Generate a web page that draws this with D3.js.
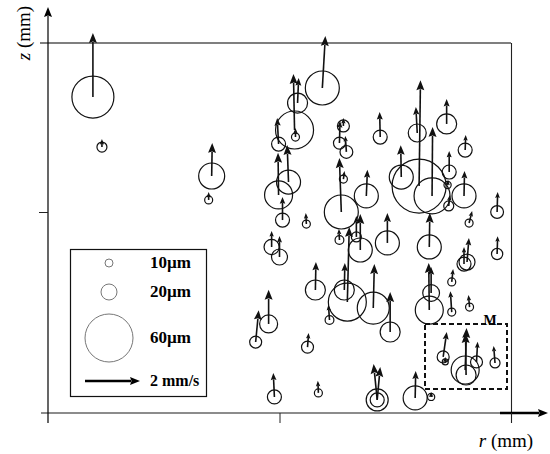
<!DOCTYPE html>
<html><head><meta charset="utf-8"><script src="https://d3js.org/d3.v7.min.js"></script></head>
<body style="margin:0;background:white;">
<script>
// bubble positions (mm), diameters (um), velocities (mm/s)
rPos = [0.194,0.233,0.707,0.694,1.185,1.078,1.065,1.069,0.996,1.039,0.996,1.013,1.116,0.966,1.000,
        1.276,1.259,1.289,1.435,1.276,1.267,1.375,1.259,1.332,1.349,1.466,1.155,1.280,1.293,1.405,1.478,
        0.897,0.953,1.121,1.216,0.978,1.168,1.422,1.422,1.586,1.655,1.526,1.595,1.722,1.802,1.733,1.603,
        1.659,1.797,1.726,1.731,1.819,1.940,1.647,1.797,1.810,1.940,1.655,1.647,1.744,1.744,1.821,
        1.707,1.716,1.802,1.806,1.851,1.931];
zPos = [1.572,1.323,1.179,1.060,1.617,1.542,1.408,1.373,1.338,1.149,1.085,0.960,0.940,0.826,0.776,
        1.428,1.343,1.299,1.373,1.164,1.000,1.080,0.861,0.876,0.811,0.846,0.612,0.612,0.552,0.522,0.403,
        0.353,0.443,0.328,0.463,0.080,0.100,0.065,0.065,0.075,0.080,1.174,1.393,1.438,1.308,1.199,1.129,
        1.080,1.080,1.134,1.030,0.945,1.000,0.826,0.741,0.751,0.791,0.597,0.512,0.652,0.502,0.527,
        0.279,0.254,0.214,0.189,0.254,0.249];
diam = [52.5,12.5,32.5,10,42.5,25,47.5,10,17.5,30,35,17.5,10,19,20,
        15,15,16,17.5,10,42.5,30,11,12.5,30,30,25,25,47.5,40,25,
        15,22.5,15,11,17.5,10,27.5,17.5,30,9,30,22.5,25,17.5,17.5,67.5,
        45,30,9,12.5,10,16,30,17.5,20,14,21,35,10,10,10,
        15,7.5,35,25,15,12.5];
uVel = [0,0,0.02,0,0.11,0.04,-0.04,0,-0.05,-0.05,-0.02,0,-0.02,0,0,
        0,0.02,-0.04,-0.02,0.04,-0.07,0.04,-0.02,0,0,0,0.02,0.02,0.07,0.04,0,
        0.11,0,0.04,-0.04,-0.04,-0.02,-0.13,0.11,0.02,0,-0.02,-0.05,0,0.02,0,0.05,
        0.02,0.02,0.02,0.04,0.11,0.02,0.02,0,0.07,0.02,0,-0.02,0.05,-0.05,-0.04,
        0.13,0,0.05,-0.02,0.04,-0.05];
wVel = [2.33,0.29,1.20,0.29,1.89,0.91,2.04,0.33,0.95,1.35,1.53,0.84,0.40,0.58,0.76,
        0.29,0.80,0.58,0.91,0.29,1.96,0.95,0.40,0.76,1.31,1.09,1.02,0.98,2.73,1.60,1.45,
        1.16,1.24,0.51,0.55,0.87,0.44,1.31,1.20,0.98,0.18,1.16,0.95,0.91,0.55,0.76,3.85,
        2.51,0.91,0.18,0.40,0.44,0.73,1.24,0.62,0.87,0.65,0.95,1.71,0.47,0.76,0.44,
        0.91,0.18,1.53,1.53,0.73,0.62];

legendSizes = [10,20,60];
legendLabels = ["10\u00b5m","20\u00b5m","60\u00b5m"];
legendSpeed = 2;
legendSpeedLabel = "2 mm/s";

bubbles = rPos.map(function(r,i){ return {r:r, z:zPos[i], d:diam[i], u:uVel[i], w:wVel[i]}; });

x = d3.scaleLinear().domain([0,2]).range([48,511]);
y = d3.scaleLinear().domain([0,1]).range([413,212]);
rad = d3.scaleLinear().domain([0,60]).range([0,24]);
vel = d3.scaleLinear().domain([0,2]).range([0,55]);
zTop = 1.841;

svg = d3.select("body").append("svg")
  .attr("width",550).attr("height",454)
  .style("font-family","'Liberation Serif','Times New Roman',serif");

// arrow path helper: shaft + filled head
arrow = function(x0,y0,x1,y1,hl,hw) {
  var dx=x1-x0, dy=y1-y0, len=Math.sqrt(dx*dx+dy*dy);
  if (len<0.1) return {shaft:"",head:""};
  var ux=dx/len, uy=dy/len;
  if (hl===undefined) hl=Math.min(10,Math.max(5.5,len*0.3));
  if (hw===undefined) hw=hl*0.4;
  hl=Math.min(hl,len);
  var bx=x1-ux*hl, by=y1-uy*hl;
  return {
    shaft:"M"+x0+","+y0+"L"+(bx+ux*1)+","+(by+uy*1),
    head:"M"+x1+","+y1+"L"+(bx-uy*hw)+","+(by+ux*hw)+"L"+(bx+ux*hl*0.15)+","+(by+uy*hl*0.15)+"L"+(bx+uy*hw)+","+(by-ux*hw)+"Z"
  };
};

// frame and axes
svg.append("line").attr("x1",40).attr("x2",x(2)).attr("y1",y(zTop)).attr("y2",y(zTop))
  .attr("stroke","#555").attr("stroke-width",1.4);
svg.append("line").attr("x1",x(2)+0.5).attr("x2",x(2)+0.5).attr("y1",y(zTop)).attr("y2",423)
  .attr("stroke","#222").attr("stroke-width",1.1);
svg.append("line").attr("x1",41).attr("x2",502).attr("y1",y(0)).attr("y2",y(0))
  .attr("stroke","#666").attr("stroke-width",1.5);
xa = arrow(500,y(0),548,y(0),10,4);
svg.append("path").attr("d",xa.shaft).attr("stroke","#000").attr("stroke-width",2.4);
svg.append("path").attr("d",xa.head).attr("fill","#000");
ya = arrow(x(0),423,x(0),7,10,4);
svg.append("path").attr("d",ya.shaft).attr("stroke","#000").attr("stroke-width",1.2);
svg.append("path").attr("d",ya.head).attr("fill","#000");

gx = svg.append("g").attr("transform","translate(0,"+y(0)+")")
  .call(d3.axisBottom(x).tickValues([1,2]).tickSize(10).tickFormat(""));
gx.select(".domain").remove();
gx.selectAll("line").attr("stroke","#222");
gy = svg.append("g").attr("transform","translate("+x(0)+",0)")
  .call(d3.axisLeft(y).tickValues([1]).tickSize(9).tickFormat(""));
gy.select(".domain").remove();
gy.selectAll("line").attr("stroke","#222");

svg.append("text").attr("transform","translate(30,33) rotate(-90)")
  .attr("text-anchor","middle").attr("font-size",19)
  .html("<tspan font-style='italic'>z</tspan> (mm)");
svg.append("text").attr("x",506).attr("y",447)
  .attr("text-anchor","middle").attr("font-size",19)
  .html("<tspan font-style='italic'>r</tspan> (mm)");

// bubbles
svg.append("g").selectAll("circle").data(bubbles).enter().append("circle")
  .attr("cx",function(d){return x(d.r);})
  .attr("cy",function(d){return y(d.z);})
  .attr("r",function(d){return rad(d.d);})
  .attr("fill","none").attr("stroke","#111").attr("stroke-width",1.2);

ar = svg.append("g").selectAll("g").data(bubbles).enter().append("g");
ar.each(function(d){
  var x0=x(d.r), y0=y(d.z), a=arrow(x0,y0,x0+vel(d.u),y0-vel(d.w));
  d3.select(this).append("path").attr("d",a.shaft).attr("stroke","#111").attr("stroke-width",1.6).attr("fill","none");
  d3.select(this).append("path").attr("d",a.head).attr("fill","#111");
});

// dashed box M
svg.append("rect").attr("x",425).attr("y",324).attr("width",82).attr("height",65)
  .attr("fill","none").attr("stroke","#111").attr("stroke-width",2).attr("stroke-dasharray","5,3");
svg.append("text").attr("x",490).attr("y",325).attr("text-anchor","middle")
  .attr("font-size",14).attr("font-weight","bold").text("M");

// legend
lg = svg.append("g");
lg.append("rect").attr("x",70.5).attr("y",249.5).attr("width",136).attr("height",147)
  .attr("fill","white").attr("stroke","#111").attr("stroke-width",1.2);
legendY = [263,292,338];
lg.selectAll("circle").data(legendSizes).enter().append("circle")
  .attr("cx",109).attr("cy",function(d,i){return legendY[i];})
  .attr("r",function(d){return rad(d);})
  .attr("fill","none").attr("stroke","#777").attr("stroke-width",1);
lg.selectAll("text.lab").data(legendLabels).enter().append("text").attr("class","lab")
  .attr("x",150).attr("y",function(d,i){return legendY[i]+5;})
  .attr("font-size",17).attr("font-weight","bold").text(function(d){return d;});
la = arrow(85,381,85+vel(legendSpeed),381,10,4);
lg.append("path").attr("d",la.shaft).attr("stroke","#000").attr("stroke-width",2.5);
lg.append("path").attr("d",la.head).attr("fill","#000");
lg.append("text").attr("x",150).attr("y",386).attr("font-size",16).attr("font-weight","bold").text(legendSpeedLabel);
</script>
</body></html>
